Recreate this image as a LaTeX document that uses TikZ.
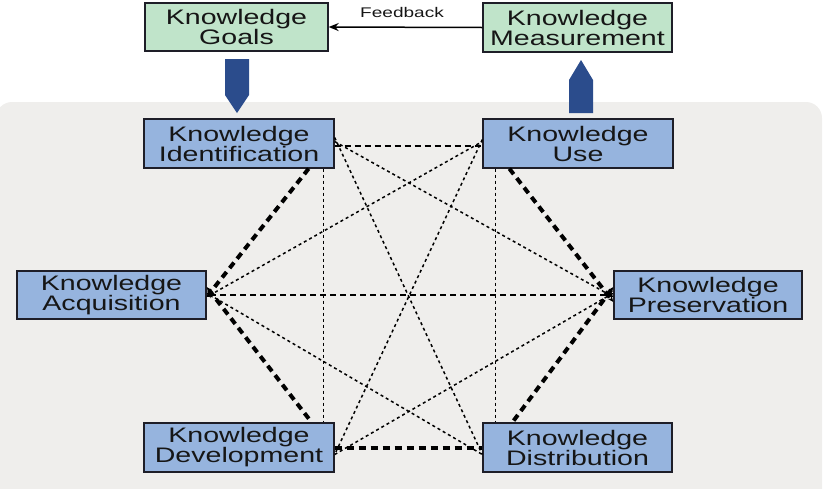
\documentclass[tikz,border=0pt]{standalone}
\usepackage{fontspec}
\newfontfamily\kbfont[FakeStretch=1.36]{Liberation Sans}
\usetikzlibrary{arrows.meta}

\begin{document}
\begin{tikzpicture}[x=1pt,y=1pt,yscale=-1,xscale=1,
	kbox/.style={draw={rgb,255:red,30;green,30;blue,40}, line width=1.3pt, inner sep=0pt, minimum width=189pt, minimum height=49pt, align=center, text={rgb,255:red,22;green,22;blue,22}, font=\kbfont\fontsize{21}{20}\selectfont},
	kgreen/.style={kbox, fill={rgb,255:red,192;green,228;blue,202}},
	kblue/.style={kbox, fill={rgb,255:red,150;green,180;blue,222}},
	kthin/.style={line width=1.5pt, dash pattern=on 3pt off 3pt},
	kmid/.style={line width=2pt, dash pattern=on 6pt off 4pt},
	kthick/.style={line width=4pt, dash pattern=on 7pt off 5pt},
	>={Stealth[length=6pt,width=5pt]}]
	\useasboundingbox (0,0) rectangle (828,488);
	\fill [rounded corners=16pt, fill={rgb,255:red,239;green,238;blue,236}] (-4,102) rectangle (822,510);

	\node [kgreen, minimum width=183pt, minimum height=48pt] (goals) at (236.5,27) {Knowledge\\Goals};
	\node [kgreen] (meas) at (577.5,27.5) {Knowledge\\Measurement};
	\node [kblue, minimum width=190pt] (ident) at (239,143.5) {Knowledge\\Identification};
	\node [kblue, minimum width=190pt] (use) at (578,143.5) {Knowledge\\Use};
	\node [kblue, minimum height=48pt] (acq) at (111.5,295) {Knowledge\\Acquisition};
	\node [kblue, minimum width=188pt, minimum height=48pt] (pres) at (708,295) {Knowledge\\Preservation};
	\node [kblue, minimum width=190pt] (dev) at (239,447.5) {Knowledge\\Development};
	\node [kblue] (dist) at (577.5,447.5) {Knowledge\\Distribution};

	\draw [line width=1.5pt, -{Stealth[length=10pt,width=8pt]}] (meas.west) -- (goals.east);
	\node [font=\kbfont\fontsize{14}{14}\selectfont, text={rgb,255:red,22;green,22;blue,22}] (fb) at (402,12) {Feedback};

	\fill [fill={rgb,255:red,43;green,76;blue,140}] (225,59) -- (249,59) -- (249,95) -- (237,113) -- (225,95) -- cycle;
	\fill [fill={rgb,255:red,43;green,76;blue,140}] (569,113) -- (593,113) -- (593,80) -- (581,60) -- (569,80) -- cycle;

	\draw [kmid] ([yshift=2pt]ident.east) -- ([yshift=2pt]use.west);
	\draw [kthick, ->] ([xshift=-26pt]ident.south east) -- ([yshift=2pt]acq.east);
	\draw [kthin] ([xshift=-11pt]ident.south east) -- ([xshift=-11pt]dev.north east);
	\draw [kthin, ->] ([yshift=-2pt]ident.east) -- ([yshift=2pt]pres.west);
	\draw [kthin] ([yshift=-6pt]ident.east) -- ([yshift=7pt]dist.west);
	\draw [kthin, <-] ([yshift=2pt]acq.east) -- ([yshift=-2pt]use.west);
	\draw [kmid, <->] (acq.east) -- (pres.west);
	\draw [kthin, <-] ([yshift=-2pt]acq.east) -- ([yshift=7pt]dist.west);
	\draw [kthick, <-] ([yshift=-8pt]acq.east) -- ([xshift=-23pt]dev.north east);
	\draw [kthick, ->] ([xshift=27pt]use.south west) -- ([yshift=7pt]pres.west);
	\draw [kthin] ([xshift=13pt]use.south west) -- ([xshift=13pt]dist.north west);
	\draw [kthin] ([yshift=-4pt]use.west) -- ([yshift=7pt]dev.east);
	\draw [kthick, <-] ([yshift=-8pt]pres.west) -- ([xshift=30pt]dist.north west);
	\draw [kthin, ->] ([yshift=7pt]dev.east) -- ([yshift=-2pt]pres.west);
	\draw [kthick] (dev.east) -- (dist.west);
\end{tikzpicture}
\end{document}
